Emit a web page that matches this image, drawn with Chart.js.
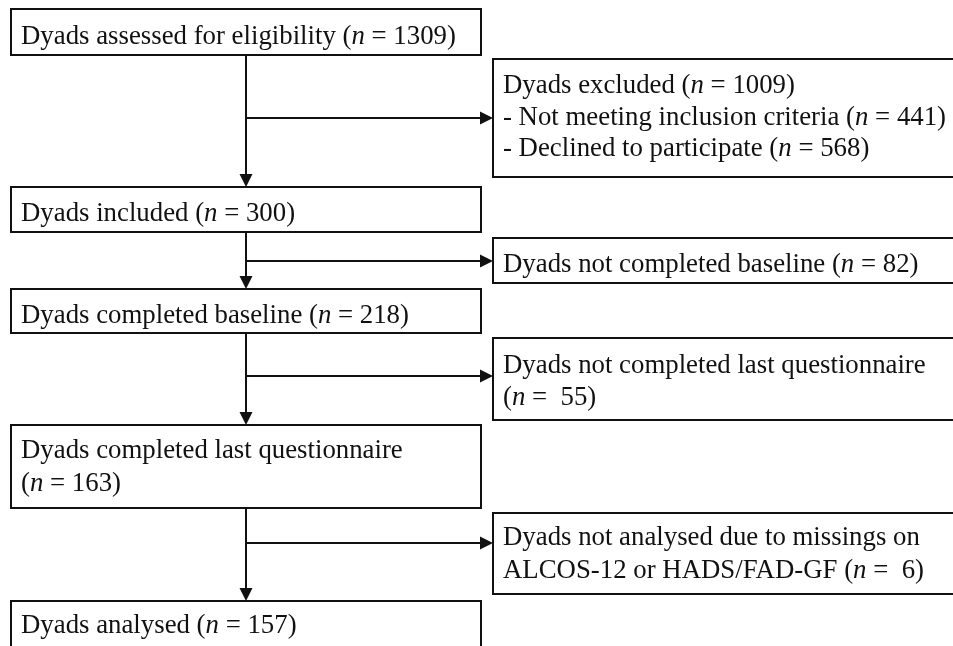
<!DOCTYPE html>
<html>
<head>
<meta charset="utf-8">
<script src="https://cdn.jsdelivr.net/npm/chart.js@4/dist/chart.umd.min.js"></script>
<style>
html,body{margin:0;padding:0;background:#fff;}
#wrap{width:953px;height:646px;position:relative;}
</style>
</head>
<body>
<div id="wrap"><canvas id="c"></canvas></div>
<script>
// ---- data ----
const stageNames = ['Dyads assessed for eligibility', 'Dyads included', 'Dyads completed baseline', 'Dyads completed last questionnaire', 'Dyads analysed'];
const stageCounts = [1309, 300, 218, 163, 157];
const exclusionNames = ['Dyads excluded', 'Dyads not completed baseline', 'Dyads not completed last questionnaire', 'Dyads not analysed due to missings on ALCOS-12 or HADS/FAD-GF'];
const exclusionCounts = [1009, 82, 55, 6];
const exclusionReasons = ['- Not meeting inclusion criteria', '- Declined to participate'];
const exclusionReasonCounts = [441, 568];

// ---- text lines built from data (*n* = italic n) ----
const N = '*n*';
const stageLines = [
  [`${stageNames[0]} (${N} = ${stageCounts[0]})`],
  [`${stageNames[1]} (${N} = ${stageCounts[1]})`],
  [`${stageNames[2]} (${N} = ${stageCounts[2]})`],
  [stageNames[3], `(${N} = ${stageCounts[3]})`],
  [`${stageNames[4]} (${N} = ${stageCounts[4]})`]
];
const exclusionLines = [
  [`${exclusionNames[0]} (${N} = ${exclusionCounts[0]})`,
   `${exclusionReasons[0]} (${N} = ${exclusionReasonCounts[0]})`,
   `${exclusionReasons[1]} (${N} = ${exclusionReasonCounts[1]})`],
  [`${exclusionNames[1]} (${N} = ${exclusionCounts[1]})`],
  ['Dyads not completed last questionnaire', `(${N} =  ${exclusionCounts[2]})`],
  ['Dyads not analysed due to missings on', `ALCOS-12 or HADS/FAD-GF (${N} =  ${exclusionCounts[3]})`]
];

// ---- layout (diagram coordinate units) ----
const layout = {
  leftX: [11, 481], rightX: [493, 960], spineX: 246,
  leftY: [[9, 55], [187, 232], [289, 333], [425, 508], [601, 648]],
  rightY: [[59, 177], [238, 283], [338, 420], [513, 594]],
  branchY: [118, 261, 376, 543],
  leftBase: [35, 34, 34, 33, 32], leftGap: [0, 0, 0, 33, 0],
  rightBase: [34, 34, 35, 32], rightGap: [31.5, 0, 32, 33],
  padX: 10
};
const style = { font: 'Liberation Serif, "Times New Roman", serif', size: 26.8, color: '#111', lw: 2, head: 13, headHalf: 6.5 };

function drawRich(ctx, text, x, y) {
  const parts = text.split(N);
  let cx = x;
  parts.forEach((p, i) => {
    ctx.font = `${style.size}px ${style.font}`;
    ctx.fillText(p, cx, y);
    cx += ctx.measureText(p).width;
    if (i < parts.length - 1) {
      ctx.font = `italic ${style.size}px ${style.font}`;
      ctx.fillText('n', cx, y);
      cx += ctx.measureText('n').width;
    }
  });
}

const flowPlugin = {
  id: 'flow',
  afterDraw(chart) {
    const ctx = chart.ctx, xs = chart.scales.x, ys = chart.scales.y;
    const X = v => xs.getPixelForValue(v), Y = v => ys.getPixelForValue(v);
    ctx.save();
    ctx.strokeStyle = style.color; ctx.fillStyle = style.color;
    ctx.lineWidth = style.lw;
    ctx.textBaseline = 'alphabetic';
    const box = (x0, x1, y0, y1) => { ctx.strokeRect(X(x0), Y(y0), X(x1) - X(x0), Y(y1) - Y(y0)); };
    // left boxes
    layout.leftY.forEach((yy, i) => {
      box(layout.leftX[0], layout.leftX[1], yy[0], yy[1]);
      stageLines[i].forEach((t, j) => drawRich(ctx, t, X(layout.leftX[0] + layout.padX), Y(yy[0] + layout.leftBase[i] + j * layout.leftGap[i])));
    });
    // right boxes
    layout.rightY.forEach((yy, i) => {
      box(layout.rightX[0], layout.rightX[1], yy[0], yy[1]);
      exclusionLines[i].forEach((t, j) => drawRich(ctx, t, X(layout.rightX[0] + layout.padX), Y(yy[0] + layout.rightBase[i] + j * layout.rightGap[i])));
    });
    // vertical arrows
    const sx = X(layout.spineX);
    for (let i = 0; i < layout.leftY.length - 1; i++) {
      const y0 = Y(layout.leftY[i][1]), y1 = Y(layout.leftY[i + 1][0]);
      ctx.beginPath(); ctx.moveTo(sx, y0); ctx.lineTo(sx, y1 - style.head + 1); ctx.stroke();
      ctx.beginPath(); ctx.moveTo(sx, y1); ctx.lineTo(sx - style.headHalf, y1 - style.head); ctx.lineTo(sx + style.headHalf, y1 - style.head); ctx.closePath(); ctx.fill();
    }
    // horizontal arrows
    layout.branchY.forEach(b => {
      const by = Y(b), tx = X(layout.rightX[0]);
      ctx.beginPath(); ctx.moveTo(sx, by); ctx.lineTo(tx - style.head + 1, by); ctx.stroke();
      ctx.beginPath(); ctx.moveTo(tx, by); ctx.lineTo(tx - style.head, by - style.headHalf); ctx.lineTo(tx - style.head, by + style.headHalf); ctx.closePath(); ctx.fill();
    });
    ctx.restore();
  }
};

new Chart(document.getElementById('c'), {
  type: 'scatter',
  data: { datasets: [{ data: [], pointRadius: 0 }] },
  options: {
    responsive: true, maintainAspectRatio: false, animation: false,
    layout: { padding: 0 },
    scales: {
      x: { type: 'linear', min: 0, max: 953, display: false },
      y: { type: 'linear', min: 0, max: 646, reverse: true, display: false }
    },
    plugins: { legend: { display: false }, tooltip: { enabled: false } }
  },
  plugins: [flowPlugin]
});
</script>
</body>
</html>
